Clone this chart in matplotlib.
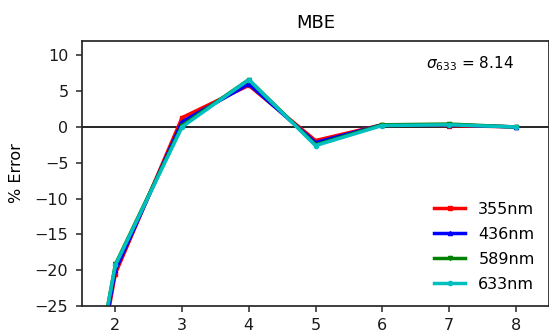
import matplotlib
matplotlib.use("Agg")
import matplotlib.pyplot as plt

x = [1, 2, 3, 4, 5, 6, 7, 8]
err_355 = [-72, -20.5, 1.3, 5.8, -1.9, 0.3, 0.2, 0.0]
err_436 = [-71, -20.0, 0.7, 6.0, -2.2, 0.3, 0.3, 0.0]
err_589 = [-70, -19.2, 0.2, 6.6, -2.5, 0.3, 0.4, 0.0]
err_633 = [-70, -19.3, 0.0, 6.6, -2.6, 0.2, 0.3, 0.0]
labels = ["355nm", "436nm", "589nm", "633nm"]
colors = ["red", "blue", "green", "c"]
markers = ["s", "^", "v", "o"]
series = [err_355, err_436, err_589, err_633]

fig = plt.figure(figsize=(5.49, 3.35), dpi=100)
ax = fig.add_axes([82/549, 1-306/335, (549-82)/549, (306-41)/335])
ax.axhline(0, color="black", lw=1.2)
for y, lab, c, m in zip(series, labels, colors, markers):
    ax.plot(x, y, color=c, marker=m, markersize=3, lw=2.5, label=lab)
ax.set_xlim(1.5, 8.5)
ax.set_ylim(-25, 12)
ax.set_xticks([2, 3, 4, 5, 6, 7, 8])
ax.set_yticks([10, 5, 0, -5, -10, -15, -20, -25])
ax.set_ylabel("% Error", fontsize=11.5, labelpad=8)
ax.set_title("MBE", fontsize=13, pad=9)
for s in ax.spines.values():
    s.set_color("0.15")
    s.set_linewidth(1.25)
ax.tick_params(labelsize=11.5, length=4.3, width=1.1, pad=5.5, color="0.15", labelcolor="0.1")
ax.tick_params(axis="x", pad=4.5)
ax.text(0.925, 0.95, r"$\sigma_{633}$ = 8.14", transform=ax.transAxes,
        ha="right", va="top", fontsize=11)
ax.legend(loc="lower right", frameon=False, fontsize=11.5, handlelength=2.0,
          labelspacing=0.62, bbox_to_anchor=(1.0, 0.0))
fig.savefig("out.png", dpi=100)
